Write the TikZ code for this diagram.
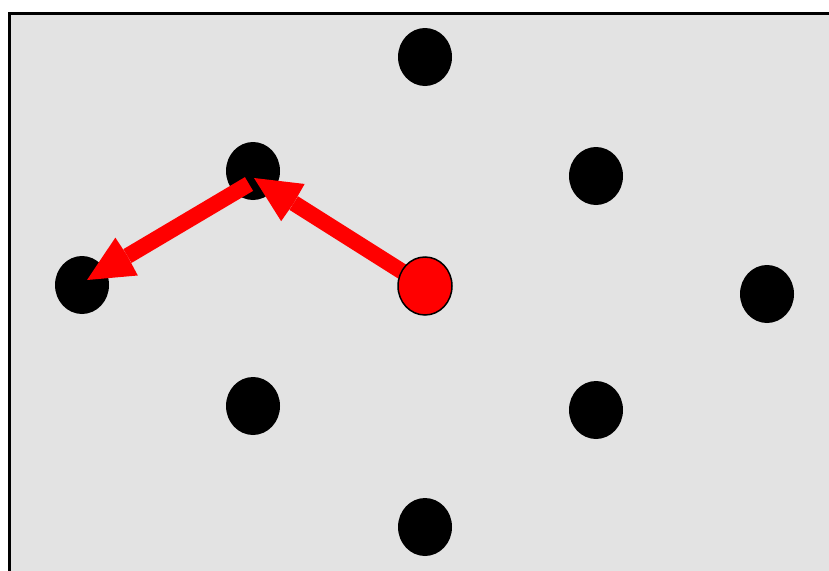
\documentclass[tikz,border=0pt]{standalone}
\usetikzlibrary{arrows.meta,shapes.geometric}
\definecolor{bg}{HTML}{E3E3E3}
\tikzset{
  dot/.style={ellipse, minimum width=54pt, minimum height=58pt, inner sep=0pt, fill=black},
  reddot/.style={ellipse, minimum width=54pt, minimum height=58pt, inner sep=0pt, fill=red, draw=black, line width=1.5pt},
  move/.style={draw=red, line width=16pt, -{Stealth[length=46pt,width=44pt,inset=-1pt,line width=0pt]}}
}
\begin{document}
\begin{tikzpicture}[x=1pt,y=-1pt]
\useasboundingbox (0,0) rectangle (829,570);
\begin{scope}
\clip (0,0) rectangle (829,570);
\draw[fill=bg, line width=3pt] (9.5,13.5) rectangle (850,600);
\end{scope}
\node[dot] (n1) at (425,57) {};
\node[dot] (n2) at (253,171) {};
\node[dot] (n3) at (596,176) {};
\node[dot] (n4) at (82,285) {};
\node[dot] (n6) at (767,294) {};
\node[dot] (n7) at (253,406) {};
\node[dot] (n8) at (596,410) {};
\node[dot] (n9) at (425,527) {};
\coordinate (t1) at (254,178);
\coordinate (s2) at (249,184);
\coordinate (t2) at (87,280);
\coordinate (r0) at (425,286);
\draw[move] (s2) -- (t2);
\draw[move] (r0) -- (t1);
\node[reddot] (r) at (r0) {};
\end{tikzpicture}
\end{document}
